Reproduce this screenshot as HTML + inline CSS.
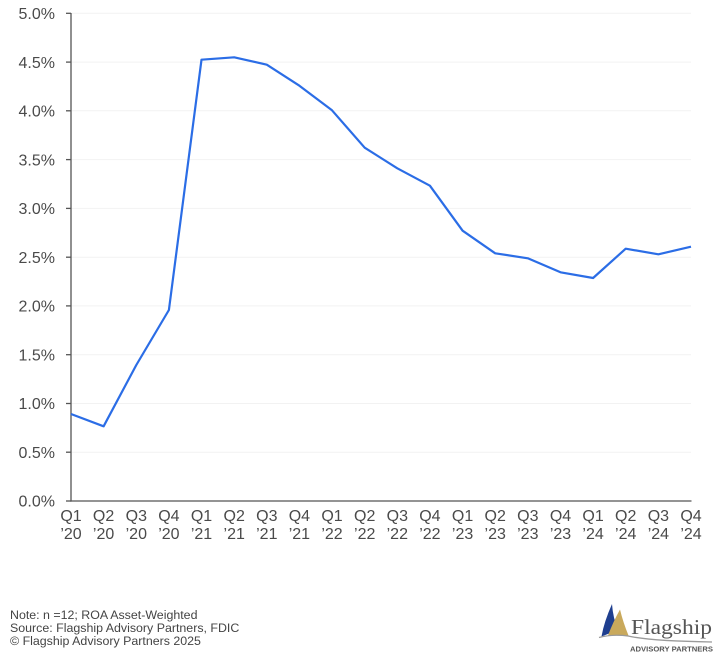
<!DOCTYPE html>
<html><head><meta charset="utf-8"><style>
html,body{margin:0;padding:0;background:#fff;}
svg{display:block;}
</style></head><body>
<svg width="720" height="659" viewBox="0 0 720 659" xmlns="http://www.w3.org/2000/svg" font-family="'Liberation Sans', sans-serif">
<g stroke="#f2f2f2" stroke-width="1">
<line x1="71" y1="452.2" x2="691" y2="452.2"/>
<line x1="71" y1="403.5" x2="691" y2="403.5"/>
<line x1="71" y1="354.7" x2="691" y2="354.7"/>
<line x1="71" y1="305.9" x2="691" y2="305.9"/>
<line x1="71" y1="257.2" x2="691" y2="257.2"/>
<line x1="71" y1="208.4" x2="691" y2="208.4"/>
<line x1="71" y1="159.6" x2="691" y2="159.6"/>
<line x1="71" y1="110.8" x2="691" y2="110.8"/>
<line x1="71" y1="62.1" x2="691" y2="62.1"/>
<line x1="71" y1="13.3" x2="691" y2="13.3"/>
</g>
<g stroke="#555" stroke-width="1.3">
<line x1="71" y1="13" x2="71" y2="501.6"/>
<line x1="70.4" y1="501" x2="691.5" y2="501"/>
<line x1="66" y1="501" x2="71" y2="501"/>
<line x1="66" y1="452.2" x2="71" y2="452.2"/>
<line x1="66" y1="403.5" x2="71" y2="403.5"/>
<line x1="66" y1="354.7" x2="71" y2="354.7"/>
<line x1="66" y1="305.9" x2="71" y2="305.9"/>
<line x1="66" y1="257.2" x2="71" y2="257.2"/>
<line x1="66" y1="208.4" x2="71" y2="208.4"/>
<line x1="66" y1="159.6" x2="71" y2="159.6"/>
<line x1="66" y1="110.8" x2="71" y2="110.8"/>
<line x1="66" y1="62.1" x2="71" y2="62.1"/>
<line x1="66" y1="13.3" x2="71" y2="13.3"/>
</g>
<g font-size="16" fill="#4a4a4a" text-anchor="end">
<text x="55" y="506.7">0.0%</text>
<text x="55" y="457.9">0.5%</text>
<text x="55" y="409.2">1.0%</text>
<text x="55" y="360.4">1.5%</text>
<text x="55" y="311.6">2.0%</text>
<text x="55" y="262.9">2.5%</text>
<text x="55" y="214.1">3.0%</text>
<text x="55" y="165.3">3.5%</text>
<text x="55" y="116.5">4.0%</text>
<text x="55" y="67.8">4.5%</text>
<text x="55" y="19">5.0%</text>
</g>
<g font-size="16" fill="#4a4a4a" text-anchor="middle">
<text x="71" y="521">Q1</text><text x="71" y="539">’20</text>
<text x="103.6" y="521">Q2</text><text x="103.6" y="539">’20</text>
<text x="136.3" y="521">Q3</text><text x="136.3" y="539">’20</text>
<text x="168.9" y="521">Q4</text><text x="168.9" y="539">’20</text>
<text x="201.5" y="521">Q1</text><text x="201.5" y="539">’21</text>
<text x="234.2" y="521">Q2</text><text x="234.2" y="539">’21</text>
<text x="266.8" y="521">Q3</text><text x="266.8" y="539">’21</text>
<text x="299.4" y="521">Q4</text><text x="299.4" y="539">’21</text>
<text x="332" y="521">Q1</text><text x="332" y="539">’22</text>
<text x="364.7" y="521">Q2</text><text x="364.7" y="539">’22</text>
<text x="397.3" y="521">Q3</text><text x="397.3" y="539">’22</text>
<text x="429.9" y="521">Q4</text><text x="429.9" y="539">’22</text>
<text x="462.6" y="521">Q1</text><text x="462.6" y="539">’23</text>
<text x="495.2" y="521">Q2</text><text x="495.2" y="539">’23</text>
<text x="527.8" y="521">Q3</text><text x="527.8" y="539">’23</text>
<text x="560.5" y="521">Q4</text><text x="560.5" y="539">’23</text>
<text x="593.1" y="521">Q1</text><text x="593.1" y="539">’24</text>
<text x="625.7" y="521">Q2</text><text x="625.7" y="539">’24</text>
<text x="658.4" y="521">Q3</text><text x="658.4" y="539">’24</text>
<text x="691" y="521">Q4</text><text x="691" y="539">’24</text>
</g>
<polyline fill="none" stroke="#2b6de6" stroke-width="2.2" stroke-linejoin="round" points="71,414 103.6,426.3 136.3,365 168.9,310 201.5,59.7 234.2,57.3 266.8,64.7 299.4,85.7 332,110.3 364.7,147.7 397.3,168.3 429.9,185.7 462.6,230.7 495.2,253.3 527.8,258.3 560.5,272.3 593.1,278 625.7,248.7 658.4,254.3 691,246.7"/>
<g font-size="12.4" fill="#444">
<text x="10" y="619">Note: n =12; ROA Asset-Weighted</text>
<text x="10" y="632">Source: Flagship Advisory Partners, FDIC</text>
<text x="10" y="645">© Flagship Advisory Partners 2025</text>
</g>
<g>
<path d="M612,604 Q604,622 601.5,636.5 L618,630 Q613,618 612,604 Z" fill="#1f3f8f"/>
<path d="M620,609.5 Q613,622 608,635.5 L628.5,635.5 Q623,622 620,609.5 Z" fill="#c9a95c"/>
<path d="M599,637.5 Q612,634 628,636 Q650,641 712,642" fill="none" stroke="#9a9a9a" stroke-width="1.3"/>
<text x="631" y="634" font-family="'Liberation Serif', serif" font-size="21.6" fill="#555" textLength="81" lengthAdjust="spacingAndGlyphs">Flagship</text>
<text x="630" y="651.3" font-size="7" font-weight="bold" fill="#555" textLength="83" lengthAdjust="spacingAndGlyphs">ADVISORY PARTNERS</text>
</g>
</svg>
</body></html>
